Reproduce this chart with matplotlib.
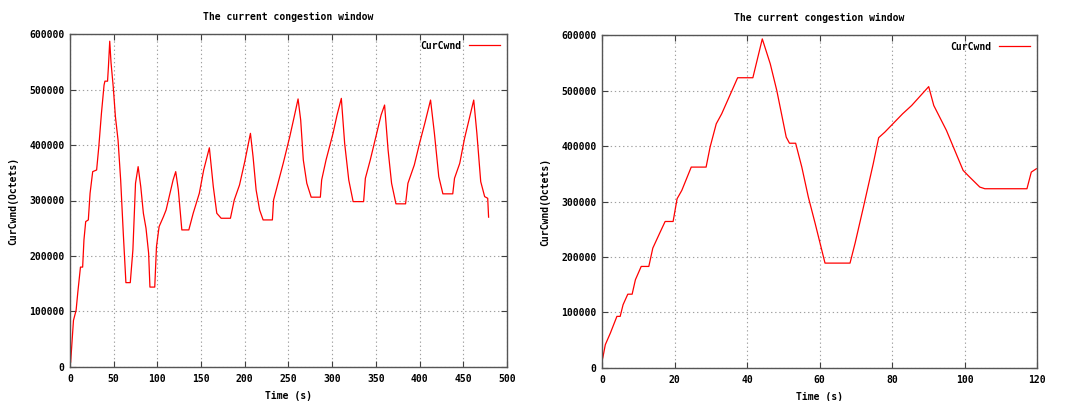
import matplotlib
matplotlib.use("Agg")
import matplotlib.pyplot as plt

# Left chart data (time s, cwnd octets)
t1 = [0.8, 4, 7, 9, 12, 14.5, 16, 18, 21, 23, 26, 30.5, 33, 36, 39, 40, 43, 44, 45.5, 47,
      49.5, 52, 55, 58, 61, 64, 69, 72, 75, 78, 81, 84, 87, 90, 91.5, 97, 99, 102, 107, 110,
      114, 118, 121, 124, 128, 136, 141, 148, 153, 159.5, 164, 168, 173, 183.6, 188, 194, 200,
      206.5, 209.5, 213, 217, 221, 231.6, 233, 238, 244, 251.5, 257, 261, 264, 267, 271, 276,
      286.5, 288, 293, 301, 305.6, 310.5, 314.3, 319, 324, 336, 338, 343.6, 350.5, 356, 360,
      364, 368, 373, 384, 386.7, 394, 400, 406, 412.6, 417, 422, 426.7, 438, 440, 446, 451.5,
      457, 462, 465.6, 470, 474.5, 478, 479]
w1 = [9000, 84000, 102000, 135000, 180000, 180000, 229000, 262000, 265000, 313000, 352000,
      355000, 397000, 457000, 508000, 515000, 515000, 541000, 587000, 548000, 505000, 451000,
      409000, 337000, 241000, 152000, 152000, 211000, 331000, 361000, 325000, 277000, 250000,
      205000, 144000, 144000, 217000, 253000, 271000, 283000, 310000, 337000, 352000, 319000,
      247000, 247000, 277000, 313000, 355000, 395000, 325000, 277000, 268000, 268000, 301000,
      328000, 370000, 421000, 379000, 319000, 283000, 265000, 265000, 301000, 331000, 367000,
      415000, 454000, 483000, 445000, 373000, 331000, 306000, 306000, 337000, 373000, 421000,
      454000, 484000, 403000, 337000, 298000, 298000, 340000, 373000, 418000, 454000, 472000,
      391000, 331000, 294000, 294000, 331000, 364000, 403000, 439000, 481000, 421000, 343000,
      312000, 312000, 340000, 367000, 412000, 448000, 481000, 421000, 334000, 307000, 304000,
      270000]

# Right chart data
t2 = [0.2, 0.9, 2.3, 3.2, 4.1, 5, 5.8, 7.1, 8.3, 9.2, 10.8, 12.9, 14, 15.9, 17.4, 19.6, 20.7,
      22, 24.6, 28.7, 29.8, 31.5, 33, 37.4, 41.6, 44.2, 46.4, 48.2, 50.8, 51.7, 53.4, 55.1,
      56.9, 58.8, 61.5, 68.4, 69.8, 72.1, 74.8, 76.3, 78, 82.9, 85.4, 90.1, 91.5, 95, 99.6,
      101.4, 104.2, 105.6, 117.2, 118.4, 119.8]
w2 = [18000, 42000, 63000, 78000, 93000, 93000, 114000, 133000, 133000, 159000, 183000,
      183000, 216000, 243000, 264000, 264000, 305000, 320000, 362000, 362000, 398000, 440000,
      458000, 523000, 523000, 593000, 548000, 500000, 416000, 405000, 405000, 362000, 308000,
      260000, 189000, 189000, 225000, 290000, 368000, 415000, 425000, 458000, 473000, 507000,
      473000, 428000, 356000, 344000, 326000, 323000, 323000, 353000, 359000]

title = "The current congestion window"
xlabel = "Time (s)"
ylabel = "CurCwnd(Octets)"
label = "CurCwnd"
yticks = [0, 100000, 200000, 300000, 400000, 500000, 600000]

FONT = "DejaVu Sans Mono"
FS = 7.0

fig = plt.figure(figsize=(10.65, 4.01), dpi=100)
ax1 = fig.add_axes([0.0657, 0.0848, 0.4103, 0.8304])
ax2 = fig.add_axes([0.5653, 0.0823, 0.4085, 0.8304])


def style(ax, t, w, xmax, xticks):
    ax.plot(t, w, color="#ff0000", lw=0.9, label=label)
    ax.set_xlim(0, xmax)
    ax.set_ylim(0, 600000)
    ax.set_xticks(xticks)
    ax.set_yticks(yticks)
    ax.set_xticklabels([str(v) for v in xticks], fontfamily=FONT, fontsize=FS, fontweight="bold")
    ax.set_yticklabels([str(v) for v in yticks], fontfamily=FONT, fontsize=FS, fontweight="bold")
    ax.tick_params(direction="in", length=4, width=0.8, color="#404040",
                   top=True, right=True, pad=4)
    ax.tick_params(axis="x", pad=5)
    ax.grid(True, color="#a0a0a0", linestyle=(0, (1.2, 2.5)), linewidth=0.8)
    for s in ax.spines.values():
        s.set_color("#555555")
        s.set_linewidth(1.0)
    ax.set_title(title, fontfamily=FONT, fontsize=FS, fontweight="bold", pad=10)
    ax.set_xlabel(xlabel, fontfamily=FONT, fontsize=FS, fontweight="bold", labelpad=5)
    ax.set_ylabel(ylabel, fontfamily=FONT, fontsize=FS, fontweight="bold", labelpad=8)
    ax.legend(loc="upper right", frameon=False, markerfirst=False,
              prop={"family": FONT, "size": FS, "weight": "bold"},
              handlelength=3.2, borderaxespad=0.3, handletextpad=0.8)


style(ax1, t1, w1, 500, [0, 50, 100, 150, 200, 250, 300, 350, 400, 450, 500])
style(ax2, t2, w2, 120, [0, 20, 40, 60, 80, 100, 120])

fig.savefig("out.png", dpi=100)
